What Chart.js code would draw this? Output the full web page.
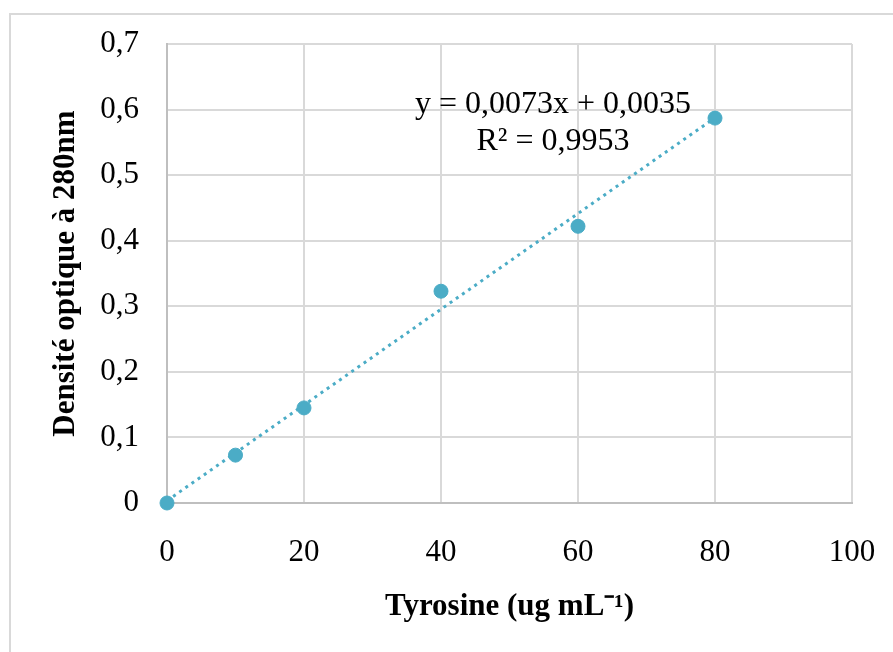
<!DOCTYPE html>
<html>
<head>
<meta charset="utf-8">
<script src="https://cdn.jsdelivr.net/npm/chart.js@4.4.1/dist/chart.umd.min.js"></script>
<style>
  html, body { margin: 0; padding: 0; background: #fff; overflow: hidden; }
  #wrap { position: relative; width: 893px; height: 652px; }
  #frame { position: absolute; left: 9px; top: 13px; width: 950px; height: 700px; border: 2px solid #d9d9d9; box-sizing: border-box; }
  canvas { position: absolute; left: 0; top: 0; }
</style>
</head>
<body>
<div id="wrap">
  <div id="frame"></div>
  <canvas id="myChart" width="893" height="652"></canvas>
</div>
<script>
// Tyrosine standard curve
const concentrations = [0, 10, 20, 40, 60, 80];
const absorbances = [0, 0.073, 0.145, 0.323, 0.422, 0.587];
const xTicks = [0, 20, 40, 60, 80, 100];
const yTicks = [0, 0.1, 0.2, 0.3, 0.4, 0.5, 0.6, 0.7];

// linear trendline as printed on the chart
const trendSlope = 0.0073;
const trendIntercept = 0.0035;
const trendRange = [0, 80];
const equationLines = ['y = 0,0073x + 0,0035', 'R\u00b2 = 0,9953'];

const pointColor = '#4bacc6';
const serif = "'Liberation Serif', 'Times New Roman', serif";

const trendPoints = trendRange.map(x => ({ x: x, y: trendSlope * x + trendIntercept }));

// draws the equation text box
const equationPlugin = {
    id: 'equation',
    afterDatasetsDraw(chart) {
        const ctx = chart.ctx;
        ctx.save();
        ctx.fillStyle = '#000';
        ctx.font = '32px ' + serif;
        ctx.textAlign = 'center';
        ctx.textBaseline = 'middle';
        ctx.fillText(equationLines[0], 553, 105);
        ctx.fillText(equationLines[1], 553, 142);
        ctx.restore();
    }
};

const ctx = document.getElementById('myChart').getContext('2d');
new Chart(ctx, {
    type: 'scatter',
    data: {
        datasets: [{
            label: 'Trend',
            type: 'line',
            data: trendPoints,
            borderColor: pointColor,
            borderWidth: 3,
            borderDash: [3, 4.5],
            pointRadius: 0,
            fill: false,
            clip: false,
            order: 2
        }, {
            label: 'Tyrosine',
            data: concentrations.map((c, i) => ({ x: c, y: absorbances[i] })),
            backgroundColor: pointColor,
            borderColor: pointColor,
            pointRadius: 7,
            pointHoverRadius: 7,
            clip: false,
            order: 1
        }]
    },
    options: {
        responsive: false,
        animation: false,
        layout: { padding: { left: 47, top: 44, right: 41, bottom: 26 } },
        plugins: {
            legend: { display: false },
            tooltip: { enabled: false }
        },
        scales: {
            x: {
                type: 'linear',
                min: 0,
                max: 100,
                afterBuildTicks: axis => { axis.ticks = xTicks.map(v => ({ value: v })); },
                afterFit: axis => {
                    axis.height = 123;
                    axis.paddingLeft = 0;
                    axis.paddingRight = 0;
                },
                grid: { color: '#d9d9d9', lineWidth: 2, drawTicks: false },
                border: { color: '#bfbfbf', width: 2 },
                ticks: {
                    padding: 31,
                    color: '#000',
                    font: { family: serif, size: 31 },
                    maxRotation: 0
                },
                title: {
                    display: true,
                    text: 'Tyrosine (ug mL\u207b\u00b9)',
                    color: '#000',
                    font: { family: serif, size: 31, weight: 'bold' },
                    padding: 0
                }
            },
            y: {
                min: 0,
                max: 0.7,
                afterBuildTicks: axis => { axis.ticks = yTicks.map(v => ({ value: v })); },
                afterFit: axis => {
                    axis.width = 120;
                    axis.paddingTop = 0;
                    axis.paddingBottom = 0;
                },
                grid: { color: '#d9d9d9', lineWidth: 2, drawTicks: false },
                border: { color: '#bfbfbf', width: 2 },
                ticks: {
                    padding: 28,
                    color: '#000',
                    font: { family: serif, size: 31 },
                    callback: v => String(Math.round(v * 10) / 10).replace('.', ',')
                },
                title: {
                    display: true,
                    text: 'Densit\u00e9 optique \u00e0 280nm',
                    color: '#000',
                    font: { family: serif, size: 31, weight: 'bold' },
                    padding: 0
                }
            }
        }
    },
    plugins: [equationPlugin]
});
</script>
</body>
</html>
